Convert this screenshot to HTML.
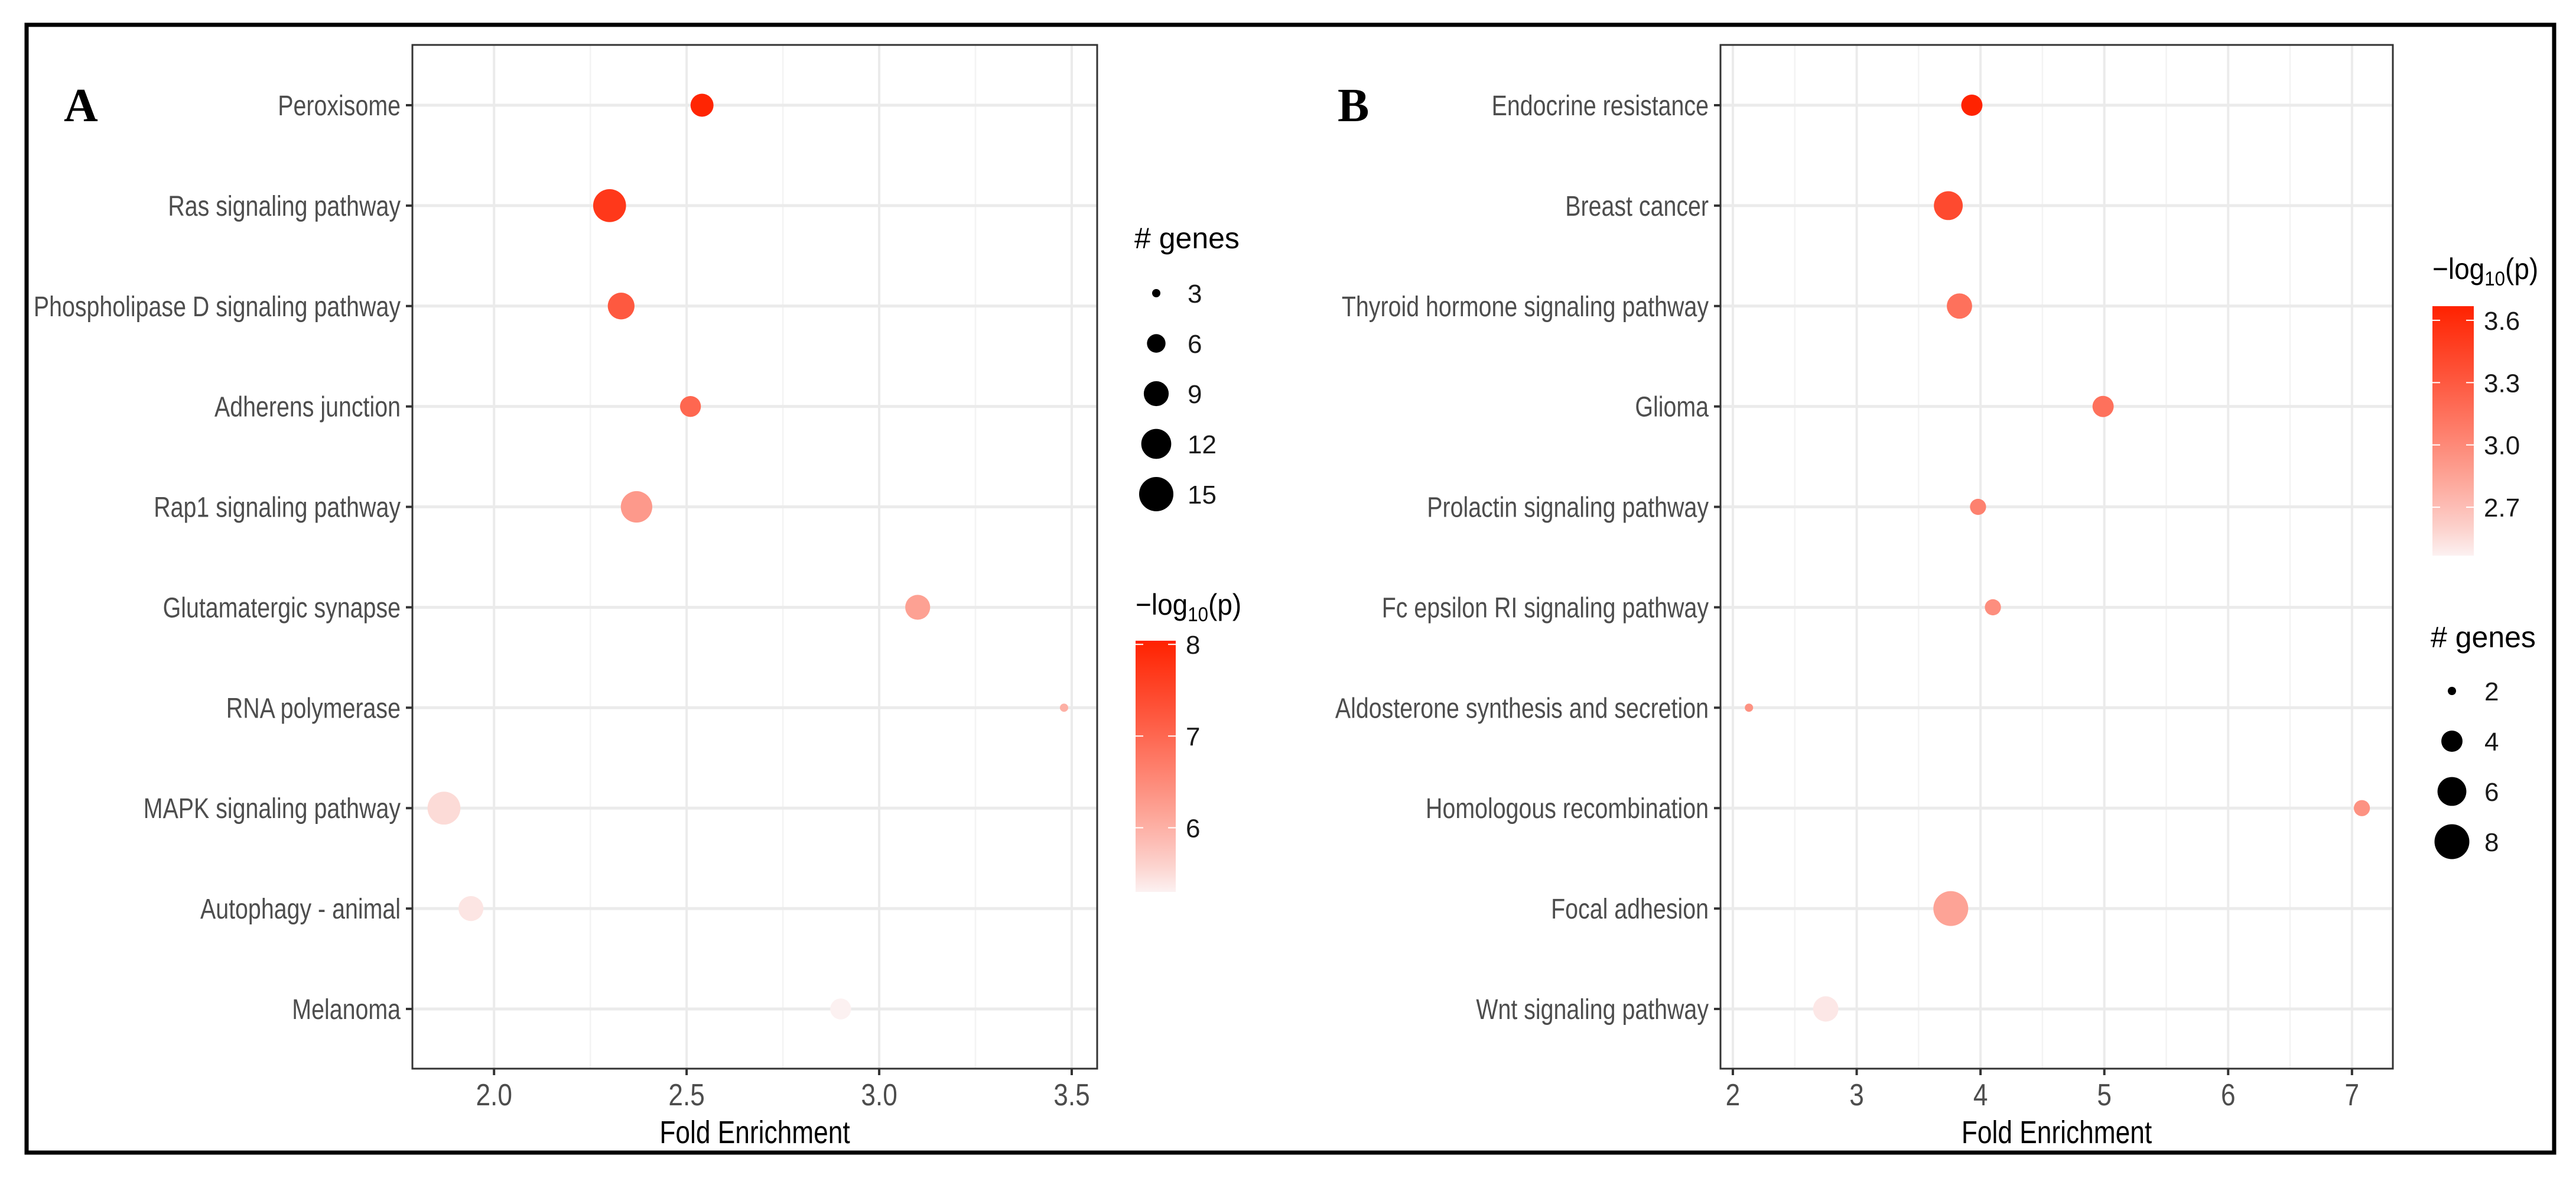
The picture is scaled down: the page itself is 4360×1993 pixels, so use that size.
<!DOCTYPE html>
<html><head><meta charset="utf-8">
<style>
html,body{margin:0;padding:0;background:#fff;}
svg{display:block;}
text{font-family:"Liberation Sans",sans-serif;}
</style></head>
<body>
<svg id="fig" width="4360" height="1993" viewBox="0 0 4360 1993" xmlns="http://www.w3.org/2000/svg">
<rect x="0" y="0" width="4360" height="1993" fill="#fff"/>
<rect x="45" y="42" width="4278" height="1908" fill="none" stroke="#000" stroke-width="7"/>
<text x="108" y="205" style="font-family:'Liberation Serif',serif;font-weight:bold;font-size:80px">A</text>
<text x="2264" y="205" style="font-family:'Liberation Serif',serif;font-weight:bold;font-size:80px">B</text>
<g id="panelA"></g>
<g id="panelB"></g>
</svg>
<script>
// ---- Panel A data ----
const catsA = ["Peroxisome","Ras signaling pathway","Phospholipase D signaling pathway","Adherens junction","Rap1 signaling pathway","Glutamatergic synapse","RNA polymerase","MAPK signaling pathway","Autophagy - animal","Melanoma"];
const foldA = [2.54,2.30,2.33,2.51,2.37,3.10,3.48,1.87,1.94,2.90];
const genesA = [8,14,10,7,13,9,3,14,9,7];
const logpA = [8.0,7.7,7.2,7.0,6.3,6.2,6.0,5.5,5.4,5.3];
const xTicksA = [2.0,2.5,3.0,3.5];
const xTickLabelsA = ["2.0","2.5","3.0","3.5"];
const sizeBreaksA = [3,6,9,12,15];
const colorBreaksA = [6,7,8];
// ---- Panel B data ----
const catsB = ["Endocrine resistance","Breast cancer","Thyroid hormone signaling pathway","Glioma","Prolactin signaling pathway","Fc epsilon RI signaling pathway","Aldosterone synthesis and secretion","Homologous recombination","Focal adhesion","Wnt signaling pathway"];
const foldB = [3.93,3.74,3.83,4.99,3.98,4.10,2.13,7.08,3.76,2.75];
const genesB = [4,6,5,4,3,3,2,3,8,5];
const logpB = [3.66,3.40,3.15,3.15,3.05,2.97,2.95,2.95,2.85,2.50];
const xTicksB = [2,3,4,5,6,7];
const xTickLabelsB = ["2","3","4","5","6","7"];
const sizeBreaksB = [2,4,6,8];
const colorBreaksB = [2.7,3.0,3.3,3.6];

const NS="http://www.w3.org/2000/svg";
function mk(parent,tag,attrs){const e=document.createElementNS(NS,tag);for(const k in attrs)e.setAttribute(k,attrs[k]);parent.appendChild(e);return e;}
const LOW=[252,241,241],HIGH=[255,34,0];
function col(t){t=Math.max(0,Math.min(1,t));const tg=Math.pow(t,0.85);const c=LOW.map((l,i)=>Math.round(l+(HIGH[i]-l)*(i===0?t:tg)));return `rgb(${c[0]},${c[1]},${c[2]})`;}

function drawPanel(g,cfg){
  const {cats,fold,genes,logp,xTicks,xTickLabels,minor,sizeBreaks,colorBreaks}=cfg;
  const L=cfg.left,R=cfg.right,T=76,B=1808;
  const xs=v=>L+(v-cfg.xmin)/(cfg.xmax-cfg.xmin)*(R-L);
  const rowY=i=>178+i*(1707-178)/(cats.length-1);
  const dsz=n=>Math.sqrt(Math.max(20,cfg.sA+cfg.sB*n));
  const ct=v=>(v-cfg.cmin)/(cfg.cmax-cfg.cmin);
  minor.forEach(v=>{const l=mk(g,'line',{x1:xs(v),x2:xs(v),y1:T,y2:B,stroke:'#f3f3f3','stroke-width':2.5});
    
    });
  xTicks.forEach(v=>{const l=mk(g,'line',{x1:xs(v),x2:xs(v),y1:T,y2:B,stroke:'#ebebeb','stroke-width':4});
    
    });
  cats.forEach((c,i)=>{const l=mk(g,'line',{x1:L,x2:R,y1:rowY(i),y2:rowY(i),stroke:'#ebebeb','stroke-width':5});
    
    });
  cats.forEach((c,i)=>{
    const p=mk(g,'ellipse',{cx:xs(fold[i]),cy:rowY(i),rx:dsz(genes[i])/2,ry:dsz(genes[i])/2,fill:col(ct(logp[i]))});
    
    
  });
  const fr=mk(g,'rect',{x:L,y:T,width:R-L,height:B-T,fill:'none',stroke:'#333','stroke-width':3});
  
  
  cats.forEach((c,i)=>{
    const tk=mk(g,'line',{x1:L-11,x2:L,y1:rowY(i),y2:rowY(i),stroke:'#333','stroke-width':4});
    
    
    const t=mk(g,'text',{transform:`translate(${L-20},${rowY(i)+17}) scale(0.82,1)`,'text-anchor':'end','font-size':48,fill:'#4d4d4d'});
    t.textContent=c;
    
    
  });
  xTicks.forEach((v,i)=>{
    const tk=mk(g,'line',{x1:xs(v),x2:xs(v),y1:B,y2:B+11,stroke:'#333','stroke-width':4});
    
    
    const t=mk(g,'text',{transform:`translate(${xs(v)},${B+62}) scale(0.85,1)`,'text-anchor':'middle','font-size':52,fill:'#4d4d4d'});
    t.textContent=xTickLabels[i];
    
    
  });
  const xt=mk(g,'text',{transform:`translate(${(L+R)/2},${B+126}) scale(0.82,1)`,'text-anchor':'middle','font-size':54,fill:'#000'});
  xt.textContent='Fold Enrichment';
  
  
  // size legend
  const sl=cfg.sizeLeg;
  const st=mk(g,'text',{x:sl.x,y:sl.titleY,'font-size':50,fill:'#000'});
  st.textContent='# genes';
  
  
  sizeBreaks.forEach((n,i)=>{
    const y=sl.y0+i*sl.dy;
    const c=mk(g,'circle',{cx:sl.cx,cy:y,r:dsz(n)/2,fill:'#000'});
    
    
    const t=mk(g,'text',{x:sl.lx,y:y+16,'font-size':44,fill:'#1a1a1a'});
    t.textContent=String(n);
    
    
  });
  // color legend
  const cl=cfg.colLeg;
  const ctt=mk(g,'text',{transform:`translate(${cl.x},${cl.titleY}) scale(0.92,1)`,'font-size':50,fill:'#000'});
  ctt.innerHTML='\u2212log<tspan font-size="34" dy="11">10</tspan><tspan dy="-11">(p)</tspan>';
  
  
  const gid='grad'+cfg.id;
  const defs=mk(g,'defs',{});
  const lg=mk(defs,'linearGradient',{id:gid,x1:0,y1:1,x2:0,y2:0});
  for(let k=0;k<=10;k++){mk(lg,'stop',{offset:k/10,'stop-color':col(k/10)});}
  const bar=mk(g,'rect',{x:cl.x,y:cl.top,width:cl.w,height:cl.bot-cl.top,fill:`url(#${gid})`});
  
  
  const cy=v=>cl.bot-(v-cfg.cmin)/(cfg.cmax-cfg.cmin)*(cl.bot-cl.top);
  colorBreaks.forEach(v=>{
    [cl.x,cl.x+cl.w-13].forEach(x0=>{const l=mk(g,'line',{x1:x0,x2:x0+13,y1:cy(v),y2:cy(v),stroke:'#fff','stroke-width':2});
      
      });
    const t=mk(g,'text',{x:cl.x+cl.w+17,y:cy(v)+16,'font-size':44,fill:'#1a1a1a'});
    t.textContent=cfg.cfmt(v);
    
    
  });
}
drawPanel(document.getElementById('panelA'),{id:'A',cats:catsA,fold:foldA,genes:genesA,logp:logpA,xTicks:xTicksA,xTickLabels:xTickLabelsA,
  minor:[2.25,2.75,3.25],sizeBreaks:sizeBreaksA,colorBreaks:colorBreaksA,
  left:698,right:1857,xmin:1.788,xmax:3.566,sA:-596,sB:264,cmin:5.3,cmax:8.04,cfmt:v=>String(v),
  sizeLeg:{x:1920,titleY:420,cx:1957,y0:496,dy:85,lx:2010},
  colLeg:{x:1922,titleY:1040,top:1084,bot:1509,w:68}});
drawPanel(document.getElementById('panelB'),{id:'B',cats:catsB,fold:foldB,genes:genesB,logp:logpB,xTicks:xTicksB,xTickLabels:xTickLabelsB,
  minor:[2.5,3.5,4.5,5.5,6.5],sizeBreaks:sizeBreaksB,colorBreaks:colorBreaksB,
  left:2912,right:4050,xmin:1.9,xmax:7.33,sA:-899,sB:547.5,cmin:2.467,cmax:3.668,cfmt:v=>v.toFixed(1),
  sizeLeg:{x:4114,titleY:1095,cx:4150,y0:1169,dy:85,lx:4205},
  colLeg:{x:4117,titleY:472,top:518,bot:940,w:70}});
</script>
</body></html>
